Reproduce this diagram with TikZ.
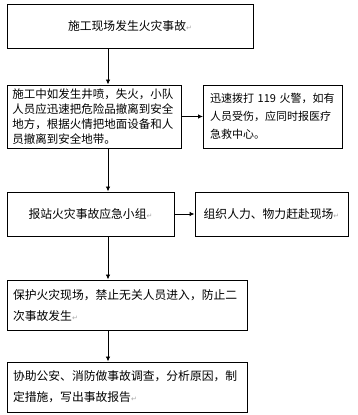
\documentclass[tikz,border=0pt]{standalone}
\usepackage{fontspec}
\usepackage{xcolor}
\usepackage{tikz}
\usetikzlibrary{arrows.meta}
\newfontfamily\cjk{Noto Sans CJK SC}
\newfontfamily\marksfont{DejaVu Sans}
\newcommand{\parmark}{{\marksfont\fontsize{7}{7}\selectfont\textcolor{gray!70}{↵}}}

\tikzset{
  flowbox/.style={draw, line width=0.9pt, inner sep=0pt, align=left,
    font=\cjk\fontsize{11.8}{21}\selectfont},
  flowarrow/.style={line width=0.9pt, -{Latex[length=5pt,width=4.5pt]}},
}

\begin{document}
\begin{tikzpicture}[x=1pt,y=1pt]
  \useasboundingbox (0,0) rectangle (358,415);

  %% main column
  \node[flowbox, minimum width=246, minimum height=44, align=center] (fire) at (130,389)
    {施工现场发生火灾事故\parmark};
  \node[flowbox, minimum width=174, minimum height=63, text width=163,
        font=\cjk\fontsize{11.5}{15}\selectfont] (evacuate) at (94,298.5)
    {施工中如发生井喷，失火，小队\\人员应迅速把危险品撤离到安全\\地方，根据火情把地面设备和人\\员撤离到安全地带。};
  \node[flowbox, minimum width=167, minimum height=44, align=center] (report) at (90.5,201)
    {报站火灾事故应急小组\parmark};
  \node[flowbox, minimum width=240, minimum height=50, text width=228] (protect) at (127,110)
    {保护火灾现场，禁止无关人员进入，防止二\\次事故发生\parmark};
  \node[flowbox, minimum width=240, minimum height=50, text width=228] (investigate) at (127,28)
    {协助公安、消防做事故调查，分析原因，制\\定措施，写出事故报告\parmark};

  %% side boxes
  \node[flowbox, minimum width=139, minimum height=63, text width=126,
        font=\cjk\fontsize{11}{18}\selectfont] (alarm) at (273,298.5)
    {\mbox{迅速拨打~119~火警，如有}\\人员受伤，应同时报医疗\\急救中心。};
  \node[flowbox, minimum width=153, minimum height=44, align=center] (rescue) at (271.5,201)
    {组织人力、物力赶赴现场\parmark};

  %% connectors
  \coordinate (trunk) at (108,0);
  \draw[flowarrow] (fire.south -| trunk) -- (evacuate.north -| trunk);
  \draw[flowarrow] (evacuate.south -| trunk) -- (report.north -| trunk);
  \draw[flowarrow] (report.south -| trunk) -- (protect.north -| trunk);
  \draw[flowarrow] (protect.south -| trunk) -- (investigate.north -| trunk);
  \draw[flowarrow] (evacuate.east) -- (alarm.west);
  \draw[flowarrow] (report.east) -- (rescue.west);
\end{tikzpicture}
\end{document}
